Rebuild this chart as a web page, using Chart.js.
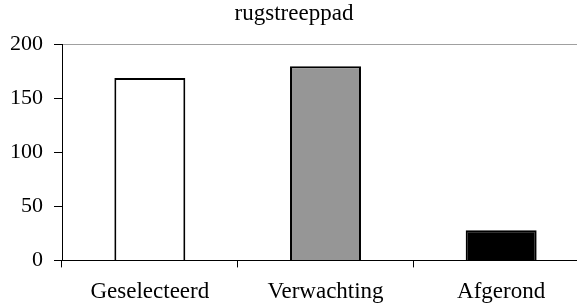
<!DOCTYPE html>
<html>
<head>
<meta charset="utf-8">
<script src="https://cdn.jsdelivr.net/npm/chart.js@4"></script>
<style>
  html, body { margin: 0; padding: 0; background: #fff; overflow: hidden; }
  #wrap { width: 620px; height: 317px; }
</style>
</head>
<body>
<div id="wrap"><canvas id="barChart" width="620" height="317"></canvas></div>
<script>
const categories = ['Geselecteerd', 'Verwachting', 'Afgerond']
const values = [169, 180, 28]
const barColors = ['#ffffff', '#969696', '#000000']
const chartTitle = 'rugstreeppad'

const serif = "'Liberation Serif', 'Times New Roman', serif"

const ctx = document.getElementById('barChart').getContext('2d')

// canvas is a bit larger than the window; the right/bottom edge gets cropped like the original
const chart = new Chart(ctx, {
    type: 'bar',
    data: {
        labels: categories,
        datasets: [{
            data: values,
            backgroundColor: barColors,
            borderColor: '#000',
            borderWidth: 2,
            borderSkipped: 'bottom',
            barPercentage: 0.404,
            categoryPercentage: 1
        }]
    },
    options: {
        responsive: false,
        animation: false,
        layout: { padding: { top: 0, right: 31, left: -1, bottom: 0 } },
        plugins: {
            legend: { display: false },
            tooltip: { enabled: false },
            title: {
                display: true,
                text: chartTitle,
                color: '#000',
                font: { family: serif, size: 23, weight: 'normal' },
                padding: { top: 0, bottom: 17 }
            }
        },
        scales: {
            x: {
                offset: true,
                grid: {
                    offset: true,
                    drawOnChartArea: false,
                    color: '#000',
                    tickLength: 7
                },
                border: { color: '#000', width: 1 },
                ticks: {
                    color: '#000',
                    padding: 11,
                    maxRotation: 0,
                    font: { family: serif, size: 23 }
                }
            },
            y: {
                min: 0,
                max: 200,
                ticks: {
                    stepSize: 50,
                    color: '#000',
                    padding: 11,
                    font: { family: serif, size: 22 }
                },
                grid: {
                    color: c => c.tick && c.tick.value === 200 ? '#a0a0a0' : 'rgba(0,0,0,0)',
                    tickColor: '#000',
                    tickLength: 8
                },
                border: { color: '#000', width: 1 }
            }
        }
    }
})
</script>
</body>
</html>
